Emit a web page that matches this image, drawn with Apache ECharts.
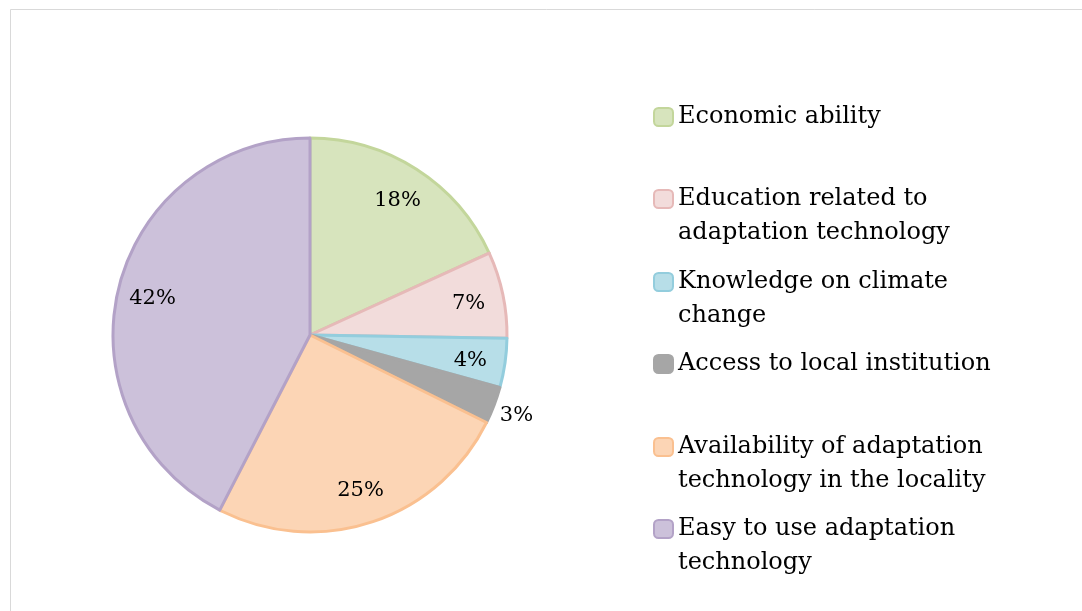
<!DOCTYPE html>
<html>
<head>
<meta charset="utf-8">
<title>Adaptation factors</title>
<script src="https://cdn.jsdelivr.net/npm/echarts@6/dist/echarts.min.js"></script>
<style>
  html, body { margin: 0; padding: 0; background: #ffffff; }
  #chart { width: 1082px; height: 611px; }
</style>
</head>
<body>
<div id="chart"></div>
<script>
// Factors and their shares (%)
const categories = [
  'Economic ability',
  'Education related to\nadaptation technology',
  'Knowledge on climate\nchange',
  'Access to local institution',
  'Availability of adaptation\ntechnology in the locality',
  'Easy to use adaptation\ntechnology'
];
const shares = [18, 7, 4, 3, 25, 42];

// Slice fill and outline colours
const fillColors = ['#d7e4bd', '#f2dcdb', '#b7dee8', '#a6a6a6', '#fcd5b5', '#ccc1da'];
const edgeColors = ['#c3d69b', '#e6b9b8', '#93cddd', '#a6a6a6', '#fac090', '#b3a2c7'];

// Labels drawn outside the pie instead of inside
const outsideLabel = [false, false, false, true, false, false];

const FONT = 'DejaVu Serif';
const CENTER = [310, 335];
const R = 197;
const LINE_H = 34;

// Icon tops of the legend entries
const legendIconTops = [108, 190, 273, 355, 438, 520];

const chart = echarts.init(document.getElementById('chart'), null, { renderer: 'canvas' });

const legends = categories.map((name, i) => {
  const multi = name.indexOf('\n') >= 0;
  // the text block is centred on the icon, so a blank first line
  // brings the first text line level with the icon
  const boxH = multi ? LINE_H * 3 : LINE_H;
  const lift = Math.max(0, boxH / 2 - 9);
  return {
    left: 653,
    top: legendIconTops[i] - lift,
    orient: 'vertical',
    padding: 0,
    itemWidth: 19,
    itemHeight: 18,
    selectedMode: false,
    data: [name],
    formatter: n => (n.indexOf('\n') >= 0 ? ' \n' + n : n),
    textStyle: {
      fontFamily: FONT,
      fontSize: 24,
      color: '#000',
      lineHeight: LINE_H
    }
  };
});

const mainData = categories.map((name, i) => ({
  name,
  value: shares[i],
  itemStyle: { color: fillColors[i], borderColor: edgeColors[i], borderWidth: 3 }
}));

const labelStyle = {
  fontFamily: FONT,
  fontSize: 21,
  color: '#000',
  offset: [0, 2],
  formatter: p => p.value + '%'
};

const innerLabelData = categories.map((name, i) => ({
  name,
  value: shares[i],
  label: { show: !outsideLabel[i] }
}));
const outerLabelData = categories.map((name, i) => ({
  name,
  value: shares[i],
  label: { show: outsideLabel[i] }
}));

chart.setOption({
  backgroundColor: '#ffffff',
  animation: false,
  legend: legends,
  graphic: [{
    type: 'rect',
    shape: { x: 10.5, y: 9.5, width: 1200, height: 800 },
    style: { fill: 'none', stroke: '#d9d9d9', lineWidth: 1 },
    silent: true,
    z: -10
  }],
  series: [
    {
      type: 'pie',
      center: CENTER,
      radius: [0, R],
      startAngle: 90,
      clockwise: true,
      avoidLabelOverlap: false,
      label: { show: false },
      labelLine: { show: false },
      emphasis: { disabled: true },
      data: mainData
    },
    {
      // transparent ring that carries the inside labels
      type: 'pie',
      center: CENTER,
      radius: [121, R],
      startAngle: 90,
      clockwise: true,
      silent: true,
      avoidLabelOverlap: false,
      itemStyle: { color: 'rgba(0,0,0,0)', borderWidth: 0 },
      label: Object.assign({ position: 'inside' }, labelStyle),
      labelLine: { show: false },
      emphasis: { disabled: true },
      legendHoverLink: false,
      data: innerLabelData
    },
    {
      // transparent ring outside the pie for the small-slice label
      type: 'pie',
      center: CENTER,
      radius: [R, 239],
      startAngle: 90,
      clockwise: true,
      silent: true,
      avoidLabelOverlap: false,
      itemStyle: { color: 'rgba(0,0,0,0)', borderWidth: 0 },
      label: Object.assign({ position: 'inside' }, labelStyle),
      labelLine: { show: false },
      emphasis: { disabled: true },
      legendHoverLink: false,
      data: outerLabelData
    }
  ]
});
</script>
</body>
</html>
